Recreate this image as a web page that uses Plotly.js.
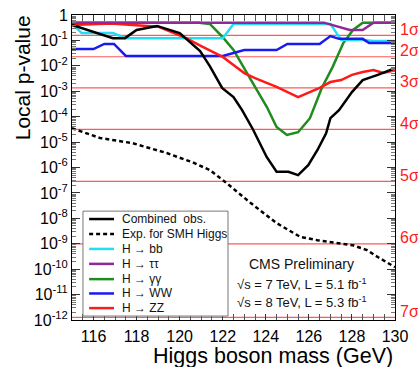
<!DOCTYPE html>
<html>
<head>
<meta charset="utf-8">
<script src="https://cdn.plot.ly/plotly-3.0.1.min.js"></script>
<style>html,body{margin:0;padding:0;background:#fff;}#chart{width:418px;height:367px;}</style>
</head>
<body>
<div id="chart"></div>
<script>
// ---- Data ----
var obsMass = [115.0, 115.98, 116.9, 117.46, 118.0, 118.95, 120.0, 120.95, 121.4, 121.97, 122.5, 122.9, 123.4, 124.04, 124.5, 125.05, 125.5, 125.97, 126.4, 126.8, 127.0, 127.4, 128.0, 128.5, 129.2, 130.0];
var obsP    = [0.407, 0.214, 0.123, 0.123, 0.257, 0.372, 0.195, 0.038, 9.8e-3, 1.35e-3, 5.9e-4, 1.8e-4, 3.2e-5, 2.6e-6, 6.8e-7, 6.8e-7, 5.0e-7, 1.23e-6, 4.9e-6, 2.2e-5, 8.7e-5, 1.8e-4, 9.3e-4, 2.75e-3, 4.4e-3, 8.1e-3];

var expMass = [115.0, 116.3, 117.8, 119.4, 120.6, 121.4, 122.1, 123.3, 124.5, 125.6, 126.4, 127.4, 128.05, 128.7, 129.2, 130.0];
var expP    = [3.5e-5, 1.45e-5, 9.1e-6, 3.7e-6, 1.6e-6, 7.9e-7, 2.75e-7, 4.0e-8, 6.5e-9, 1.86e-9, 1.38e-9, 1.05e-9, 8.7e-10, 5.6e-10, 3.0e-10, 1.2e-10];

var bbMass = [115.0, 115.45, 116.9, 117.5, 122.0, 122.5, 127.0, 127.5, 128.5, 129.0, 130.0];
var bbP    = [0.447, 0.195, 0.195, 0.123, 0.123, 0.447, 0.447, 0.105, 0.105, 0.095, 0.095];

var ttMass = [115.0, 126.7, 127.9, 128.5, 129.0, 130.0];
var ttP    = [0.5, 0.5, 0.257, 0.257, 0.5, 0.5];

var ggMass = [115.0, 120.9, 121.4, 122.0, 122.5, 122.95, 123.5, 124.05, 124.5, 124.98, 125.5, 126.05, 126.6, 127.1, 127.6, 128.05, 128.5, 130.0];
var ggP    = [0.5, 0.5, 0.447, 0.135, 0.042, 8.9e-3, 1.48e-3, 2.4e-4, 3.9e-5, 1.9e-5, 2.45e-5, 8.7e-5, 1.35e-3, 8.9e-3, 0.079, 0.257, 0.5, 0.5];

var wwMass = [115.0, 116.0, 116.5, 116.95, 117.5, 122.0, 123.0, 124.5, 125.0, 126.5, 127.0, 127.4, 128.5, 128.8, 130.0];
var wwP    = [0.0457, 0.0457, 0.0724, 0.0724, 0.0245, 0.0245, 0.0417, 0.0417, 0.0724, 0.0724, 0.148, 0.115, 0.115, 0.079, 0.079];

var zzMass = [115.0, 116.8, 119.0, 120.3, 121.0, 121.5, 122.0, 122.5, 123.0, 123.5, 124.5, 125.5, 126.05, 126.5, 127.0, 127.5, 128.0, 128.5, 129.0, 129.45, 130.0];
var zzP    = [0.407, 0.468, 0.347, 0.123, 0.060, 0.038, 0.0224, 0.0107, 5.2e-3, 3.3e-3, 1.48e-3, 5.9e-4, 9.3e-4, 1.35e-3, 2.3e-3, 2.75e-3, 4.4e-3, 5.75e-3, 6.8e-3, 5.25e-3, 6.8e-3];

var seriesNames = ["Combined  obs.", "Exp. for SMH Higgs", "H \u2192 bb", "H \u2192 \u03c4\u03c4", "H \u2192 \u03b3\u03b3", "H \u2192 WW", "H \u2192 ZZ"];
var seriesColors = ["#000000", "#000000", "#22ddf5", "#8e2a96", "#1e8c1e", "#1a1aee", "#ff1a1a"];

var sigmaLabels = ["1\u03c3", "2\u03c3", "3\u03c3", "4\u03c3", "5\u03c3", "6\u03c3", "7\u03c3"];
var sigmaP = [0.1587, 0.02275, 1.35e-3, 3.17e-5, 2.87e-7, 9.87e-10, 1.28e-12];

var yTickVals = [1, 1e-1, 1e-2, 1e-3, 1e-4, 1e-5, 1e-6, 1e-7, 1e-8, 1e-9, 1e-10, 1e-11, 1e-12];
var yTickText = ["1", "10<sup>-1</sup>", "10<sup>-2</sup>", "10<sup>-3</sup>", "10<sup>-4</sup>", "10<sup>-5</sup>", "10<sup>-6</sup>", "10<sup>-7</sup>", "10<sup>-8</sup>", "10<sup>-9</sup>", "10<sup>-10</sup>", "10<sup>-11</sup>", "10<sup>-12</sup>"];
var xTickVals = [116, 118, 120, 122, 124, 126, 128, 130];

var infoLines = ["CMS Preliminary", "\u221as = 7 TeV, L = 5.1 fb<sup>-1</sup>", "\u221as = 8 TeV, L = 5.3 fb<sup>-1</sup>"];

// ---- Build ----
var FONT = "Liberation Sans, Arial, Helvetica, sans-serif";
function tr(x, y, i, dash) {
  return {x: x, y: y, type: "scatter", mode: "lines", name: seriesNames[i], showlegend: false,
          line: {color: seriesColors[i], width: 2.5, dash: dash || "solid"}, hoverinfo: "skip"};
}
var traces = [
  tr(ggMass, ggP, 4),
  tr(bbMass, bbP, 2),
  tr(wwMass, wwP, 5),
  tr(zzMass, zzP, 6),
  tr(ttMass, ttP, 3),
  tr(expMass, expP, 1, "4px,3px"),
  tr(obsMass, obsP, 0)
];

var minorY = [];
for (var d = -12; d < 0; d++) { for (var k = 2; k <= 9; k++) { minorY.push(k * Math.pow(10, d)); } }

var shapes = [];
sigmaP.forEach(function (p) {
  shapes.push({type: "line", xref: "paper", yref: "y", x0: 0, x1: 1, y0: p, y1: p,
               line: {color: "#ff5a5a", width: 1.2}, layer: "below"});
});
// legend box
var legX0 = 0.034, legX1 = 0.483, legY0 = 0.013, legY1 = 0.357;
shapes.push({type: "rect", xref: "paper", yref: "paper", x0: legX0, x1: legX1, y0: legY0, y1: legY1,
             fillcolor: "#ffffff", line: {color: "#777777", width: 1}, layer: "above"});
var legRowsY = [0.331, 0.282, 0.233, 0.184, 0.134, 0.087, 0.039];
var annotations = [];
seriesNames.forEach(function (n, i) {
  shapes.push({type: "line", xref: "paper", yref: "paper", x0: 0.053, x1: 0.130, y0: legRowsY[i], y1: legRowsY[i],
               line: {color: seriesColors[i], width: 2.5, dash: i === 1 ? "4px,3px" : "solid"}, layer: "above"});
  annotations.push({xref: "paper", yref: "paper", x: 0.149, y: legRowsY[i], xanchor: "left", yanchor: "middle",
                    text: n, showarrow: false, font: {family: FONT, size: 12, color: "#111"}});
});
sigmaLabels.forEach(function (s, i) {
  annotations.push({xref: "paper", yref: "y", x: 1.008, y: Math.log10(sigmaP[i]), yshift: 6,
                    xanchor: "left", yanchor: "middle", text: s, showarrow: false,
                    font: {family: FONT, size: 16, color: "#ff1a1a"}});
});
var infoY = [0.184, 0.118, 0.059];
infoLines.forEach(function (t, i) {
  annotations.push({xref: "paper", yref: "paper", x: 0.712, y: infoY[i], xanchor: "center", yanchor: "middle",
                    text: t, showarrow: false, font: {family: FONT, size: i === 0 ? 14 : 13, color: "#111"}});
});
// axis titles
annotations.push({xref: "paper", yref: "paper", x: 1.0, y: -0.117, xanchor: "right", yanchor: "middle",
                  text: "Higgs boson mass (GeV)", showarrow: false, font: {family: FONT, size: 21.5, color: "#000"}});
annotations.push({xref: "paper", yref: "paper", x: -0.155, y: 1.007, xanchor: "center", yanchor: "top", textangle: -90,
                  text: "Local p-value", showarrow: false, font: {family: FONT, size: 21, color: "#000"}});

var layout = {
  width: 418, height: 367,
  margin: {l: 72, r: 23, t: 15, b: 47},
  paper_bgcolor: "#fff", plot_bgcolor: "#fff",
  showlegend: false,
  font: {family: FONT, color: "#000"},
  xaxis: {range: [115, 130], tickmode: "array", tickvals: xTickVals, ticks: "inside", ticklen: 6, tickcolor: "#333",
          showline: true, linecolor: "#000", linewidth: 1, mirror: "allticks", showgrid: false, zeroline: false,
          ticklabelstandoff: 2,
          tickfont: {family: FONT, size: 16, color: "#000"},
          minor: {ticks: "inside", ticklen: 6, tickcolor: "#555", dtick: 0.5, tick0: 115, showgrid: false}},
  yaxis: {type: "log", range: [-12, 0], tickmode: "array", tickvals: yTickVals, ticktext: yTickText,
          ticks: "inside", ticklen: 8, tickcolor: "#333", showline: true, linecolor: "#000", linewidth: 1,
          mirror: "allticks", showgrid: false, zeroline: false,
          tickfont: {family: FONT, size: 16, color: "#000"},
          minor: {ticks: "inside", ticklen: 4, tickcolor: "#777", tickmode: "array", tickvals: minorY, showgrid: false}},
  shapes: shapes,
  annotations: annotations
};

Plotly.newPlot("chart", traces, layout, {displayModeBar: false, staticPlot: true});
</script>
</body>
</html>
